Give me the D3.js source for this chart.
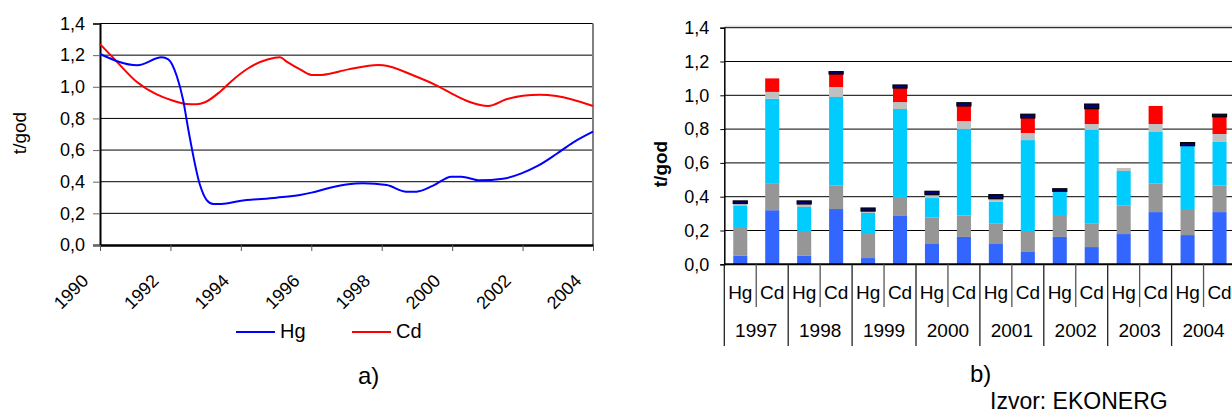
<!DOCTYPE html>
<html>
<head>
<meta charset="utf-8">
<script src="https://cdn.jsdelivr.net/npm/d3@7"></script>
<style>
  body { margin: 0; background: #fff; }
  svg { display: block; font-family: "Liberation Sans", Arial, sans-serif; }
</style>
</head>
<body>
<div id="chart"></div>
<script>
// a) yearly emission trend, [year, t/god]
const hgSeries = [
  [1990, 1.207], [1991.06, 1.136], [1991.75, 1.186], [1991.94, 1.174], [1992.18, 1.068],
  [1992.36, 0.917], [1992.51, 0.727], [1992.84, 0.379], [1993.03, 0.284], [1993.22, 0.259],
  [1993.45, 0.259], [1993.97, 0.278], [1995.01, 0.299], [1995.68, 0.316], [1996.01, 0.331],
  [1996.53, 0.362], [1997.05, 0.384], [1997.47, 0.39], [1998.14, 0.379], [1998.7, 0.337],
  [1998.99, 0.337], [1999.46, 0.375], [1999.98, 0.432], [2000.26, 0.432], [2000.78, 0.409],
  [2001.44, 0.419], [2001.97, 0.453], [2002.44, 0.501], [2002.96, 0.575], [2003.43, 0.647],
  [2004, 0.716]
];
const cdSeries = [
  [1990, 1.27], [1990.43, 1.17], [1991.04, 1.032], [1991.61, 0.952], [1992.08, 0.912],
  [1992.46, 0.891], [1992.74, 0.889], [1992.98, 0.902], [1993.41, 0.969], [1993.74, 1.037],
  [1994.21, 1.117], [1994.78, 1.174], [1995.11, 1.186], [1995.3, 1.159], [1995.68, 1.11],
  [1996.01, 1.075], [1996.29, 1.075], [1997.05, 1.11], [1997.9, 1.138], [1998.04, 1.136],
  [1998.94, 1.068], [1999.55, 1.009], [2000.03, 0.952], [2000.5, 0.904], [2001.02, 0.879],
  [2001.54, 0.921], [2002.01, 0.944], [2002.49, 0.95], [2002.96, 0.942], [2004, 0.879]
];
const trendTicks = [1990, 1992, 1994, 1996, 1998, 2000, 2002, 2004];
const valueTicks = [0, 0.2, 0.4, 0.6, 0.8, 1.0, 1.2, 1.4];

// b) stacked sources per year and metal
const barYears = ["1997", "1998", "1999", "2000", "2001", "2002", "2003", "2004"];
const metals = ["Hg", "Cd"];
// each array: Hg, Cd for 1997, Hg, Cd for 1998, ...
const srcBlue     = [0.05, 0.32, 0.05, 0.327, 0.037, 0.286, 0.12, 0.162, 0.12, 0.073, 0.162, 0.102, 0.179, 0.309, 0.173, 0.309];
const srcGray     = [0.165, 0.16, 0.147, 0.138, 0.142, 0.112, 0.156, 0.126, 0.12, 0.124, 0.13, 0.138, 0.168, 0.168, 0.154, 0.156];
const srcCyan     = [0.13, 0.50, 0.142, 0.525, 0.125, 0.521, 0.116, 0.512, 0.13, 0.538, 0.136, 0.555, 0.205, 0.306, 0.375, 0.259];
const srcLightGray = [0.015, 0.04, 0.018, 0.059, 0.011, 0.041, 0.02, 0.048, 0.018, 0.042, 0.004, 0.035, 0.018, 0.047, 0, 0.047];
const srcRed      = [0, 0.08, 0, 0.077, 0, 0.083, 0, 0.089, 0, 0.089, 0, 0.091, 0, 0.107, 0, 0.102];
const srcNavy     = [0.015, 0, 0.018, 0.014, 0.018, 0.018, 0.02, 0.019, 0.024, 0.022, 0.015, 0.027, 0, 0, 0.018, 0.015];

const sourceKeys = ["blue", "gray", "cyan", "lightGray", "red", "navy"];
const sourceColor = {
  blue: "#3366FF", gray: "#969696", cyan: "#00CCFF",
  lightGray: "#C0C0C0", red: "#FF0000", navy: "#000080"
};

const fmt = d => d.toFixed(1).replace(".", ",");

const svg = d3.select("#chart")
  .append("svg")
  .attr("width", 1232)
  .attr("height", 414);

// ---------- a) line chart ----------
const drawTrend = () => {
  const x = d3.scaleLinear().domain([1990, 2004]).range([100, 593]);
  const y = d3.scaleLinear().domain([0, 1.4]).range([245, 23.5]);

  const g = svg.append("g");

  g.selectAll(".grid")
    .data(valueTicks.filter(v => v > 0))
    .enter()
    .append("line")
    .attr("x1", 100).attr("x2", 593)
    .attr("y1", d => y(d)).attr("y2", d => y(d))
    .attr("stroke", "#000")
    .attr("stroke-width", 1);

  // right border
  g.append("line")
    .attr("x1", 593).attr("x2", 593)
    .attr("y1", y(1.4)).attr("y2", y(0))
    .attr("stroke", "#808080")
    .attr("stroke-width", 2);

  const yAxis = g.append("g")
    .attr("transform", "translate(100,0)")
    .call(d3.axisLeft(y).tickValues(valueTicks).tickFormat(fmt).tickSize(7).tickPadding(8));
  yAxis.select(".domain").attr("stroke", "#000").attr("stroke-width", 2);
  yAxis.selectAll(".tick line").attr("stroke", "#666");
  yAxis.selectAll("text").style("font-size", "18px").attr("fill", "#000");

  const xAxis = g.append("g")
    .attr("transform", "translate(0,245)")
    .call(d3.axisBottom(x).tickValues(trendTicks).tickFormat(d3.format("d")).tickSize(6).tickSizeOuter(0));
  xAxis.select(".domain").attr("stroke", "#000").attr("stroke-width", 2.5);
  xAxis.selectAll(".tick line").attr("stroke", "#555");
  xAxis.selectAll("text")
    .attr("y", null)
    .attr("dy", null)
    .attr("text-anchor", "end")
    .attr("transform", "translate(-11,37) rotate(-45)")
    .style("font-size", "18px")
    .attr("fill", "#000");

  const line = d3.line()
    .x(d => x(d[0]))
    .y(d => y(d[1]))
    .curve(d3.curveMonotoneX);

  g.append("path")
    .attr("d", line(cdSeries))
    .attr("fill", "none")
    .attr("stroke", "#FF0000")
    .attr("stroke-width", 2);

  g.append("path")
    .attr("d", line(hgSeries))
    .attr("fill", "none")
    .attr("stroke", "#0000FF")
    .attr("stroke-width", 2);

  g.append("text")
    .attr("transform", "translate(26,133) rotate(-90)")
    .attr("text-anchor", "middle")
    .style("font-size", "19px")
    .text("t/god");

  // legend
  const legend = [
    { name: "Hg", color: "#0000FF", x: 236 },
    { name: "Cd", color: "#FF0000", x: 352 }
  ];
  const lg = g.selectAll(".legend")
    .data(legend)
    .enter()
    .append("g")
    .attr("transform", d => `translate(${d.x},332)`);
  lg.append("line")
    .attr("x1", 0).attr("x2", 39)
    .attr("stroke", d => d.color)
    .attr("stroke-width", 2);
  lg.append("text")
    .attr("x", 44)
    .attr("y", 6)
    .style("font-size", "20px")
    .text(d => d.name);

  g.append("text")
    .attr("x", 358)
    .attr("y", 384)
    .style("font-size", "24px")
    .text("a)");
};

// ---------- b) stacked bars ----------
const drawSources = () => {
  const rows = [];
  barYears.forEach((year, i) => metals.forEach((metal, j) => {
    const k = i * 2 + j;
    rows.push({
      key: `${year}-${metal}`, year, metal,
      blue: srcBlue[k], gray: srcGray[k], cyan: srcCyan[k],
      lightGray: srcLightGray[k], red: srcRed[k], navy: srcNavy[k]
    });
  }));

  const left = 724.3, right = 1235.5, top = 27.7, bottom = 264.3;

  const x = d3.scaleBand()
    .domain(rows.map(d => d.key))
    .range([left, right])
    .paddingInner(0.56)
    .paddingOuter(0.28);
  const slot = d3.scaleBand()
    .domain(rows.map(d => d.key))
    .range([left, right]);
  const yearBand = d3.scaleBand()
    .domain(barYears)
    .range([left, right]);
  const y = d3.scaleLinear().domain([0, 1.4]).range([bottom, top]);

  const g = svg.append("g");

  g.selectAll(".grid")
    .data(valueTicks.filter(v => v > 0))
    .enter()
    .append("line")
    .attr("x1", left).attr("x2", 1232)
    .attr("y1", d => y(d)).attr("y2", d => y(d))
    .attr("stroke", "#000")
    .attr("stroke-width", 1);
  g.append("line")
    .attr("x1", left).attr("x2", 1232)
    .attr("y1", y(1.4) - 1.5).attr("y2", y(1.4) - 1.5)
    .attr("stroke", "#ccc");

  const stacked = d3.stack().keys(sourceKeys)(rows);

  g.selectAll(".layer")
    .data(stacked)
    .enter()
    .append("g")
    .attr("fill", d => sourceColor[d.key])
    .attr("stroke", d => d.key === "navy" ? "#000" : "none")
    .attr("stroke-width", 1.2)
    .selectAll("rect")
    .data(d => d.filter(s => s[1] - s[0] > 0))
    .enter()
    .append("rect")
    .attr("x", d => x(d.data.key))
    .attr("width", x.bandwidth())
    .attr("y", d => y(d[1]))
    .attr("height", d => y(d[0]) - y(d[1]));

  const yAxis = g.append("g")
    .attr("transform", `translate(${left},0)`)
    .call(d3.axisLeft(y).tickValues(valueTicks).tickFormat(fmt).tickSize(4).tickPadding(11));
  yAxis.select(".domain").attr("stroke", "#000").attr("stroke-width", 1.5);
  yAxis.selectAll("text").style("font-size", "18px").attr("fill", "#000");

  // category axis
  g.append("line")
    .attr("x1", left).attr("x2", 1232)
    .attr("y1", bottom).attr("y2", bottom)
    .attr("stroke", "#000")
    .attr("stroke-width", 2);

  g.selectAll(".sep")
    .data(rows)
    .enter()
    .append("line")
    .attr("x1", d => slot(d.key)).attr("x2", d => slot(d.key))
    .attr("y1", bottom)
    .attr("y2", d => d.metal === "Hg" ? 346 : 307)
    .attr("stroke", d => d.metal === "Hg" ? "#222" : "#555")
    .attr("stroke-width", 1.3);

  g.selectAll(".metal")
    .data(rows)
    .enter()
    .append("text")
    .attr("x", d => slot(d.key) + slot.bandwidth() / 2)
    .attr("y", 299)
    .attr("text-anchor", "middle")
    .style("font-size", "19px")
    .text(d => d.metal);

  g.selectAll(".year")
    .data(barYears)
    .enter()
    .append("text")
    .attr("x", d => yearBand(d) + yearBand.bandwidth() / 2)
    .attr("y", 337)
    .attr("text-anchor", "middle")
    .style("font-size", "19px")
    .text(d => d);

  g.append("text")
    .attr("transform", "translate(667,164) rotate(-90)")
    .attr("text-anchor", "middle")
    .style("font-size", "19px")
    .style("font-weight", "bold")
    .text("t/god");

  g.append("text")
    .attr("x", 970)
    .attr("y", 382)
    .style("font-size", "24px")
    .text("b)");

  g.append("text")
    .attr("x", 990)
    .attr("y", 409)
    .style("font-size", "23px")
    .text("Izvor: EKONERG");
};

drawTrend();
drawSources();
</script>
</body>
</html>
